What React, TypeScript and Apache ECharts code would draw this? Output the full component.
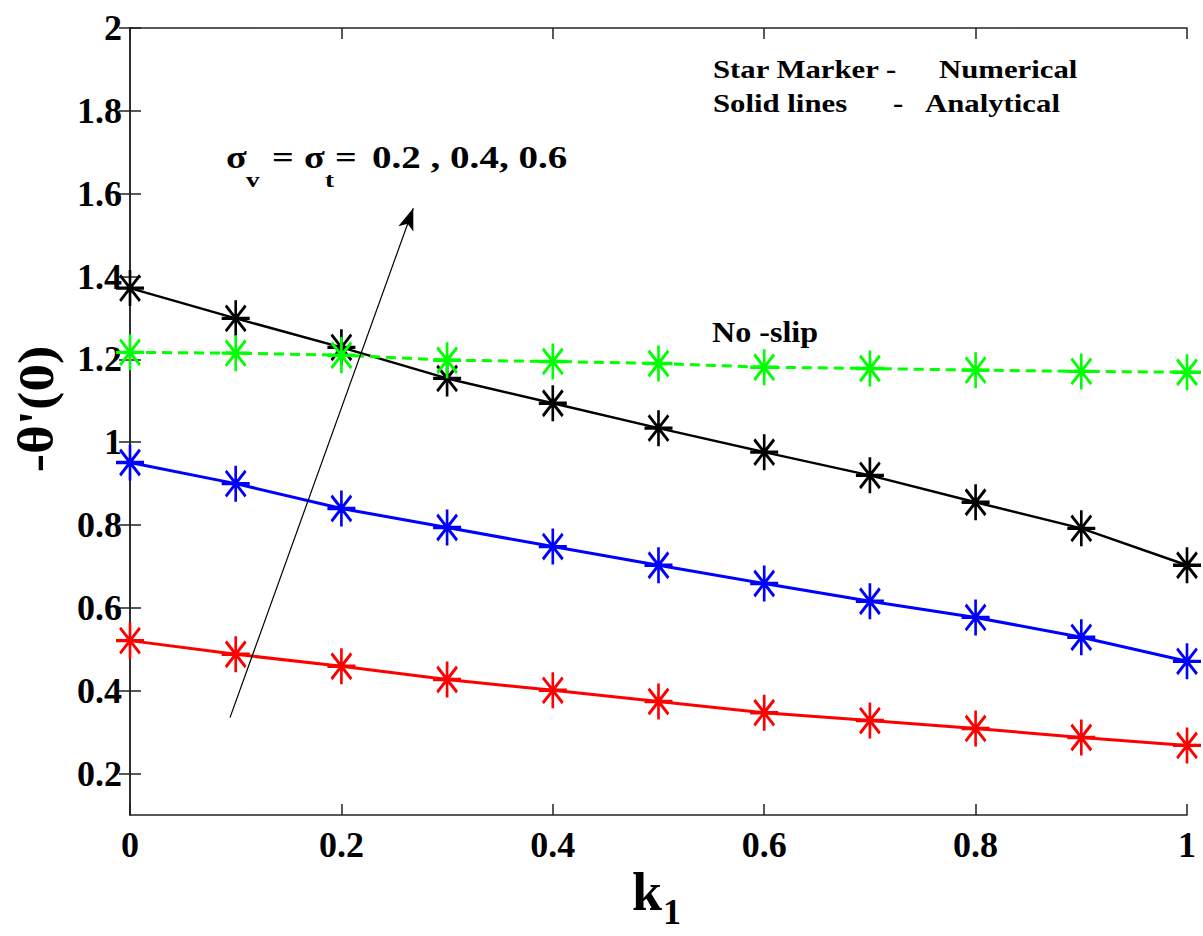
import React, { useEffect, useRef } from "react";
import * as echarts from "echarts";

const k1Values = [0, 0.1, 0.2, 0.3, 0.4, 0.5, 0.6, 0.7, 0.8, 0.9, 1.0];
const sigma02 = [0.521, 0.488, 0.459, 0.427, 0.401, 0.374, 0.347, 0.328, 0.309, 0.287, 0.268];
const sigma04 = [0.951, 0.9, 0.84, 0.794, 0.748, 0.703, 0.659, 0.616, 0.577, 0.529, 0.471];
const sigma06 = [1.372, 1.299, 1.229, 1.154, 1.094, 1.034, 0.976, 0.92, 0.855, 0.792, 0.703];
const noSlip = [1.217, 1.215, 1.21, 1.198, 1.195, 1.19, 1.181, 1.178, 1.174, 1.171, 1.169];
const yTicks = [0.2, 0.4, 0.6, 0.8, 1, 1.2, 1.4, 1.6, 1.8, 2];
const xTicks = [0, 0.2, 0.4, 0.6, 0.8, 1];
const arrowFrom = [0.0946, 0.335];
const arrowTo = [0.268, 1.565];

const STAR = "path://M0,-10L0,10M-10,0L10,0M-7.07,-7.07L7.07,7.07M-7.07,7.07L7.07,-7.07";
const SERIF = "'Liberation Serif', 'Times New Roman', serif";

function pairs(ys: number[]) {
  return k1Values.map((x, i) => [x, ys[i]]);
}

function lineSeries(name: string, ys: number[], color: string, dashed: boolean, width: number, extra: any = {}) {
  return {
    name,
    type: "line",
    data: pairs(ys),
    symbol: STAR,
    symbolSize: [28, 36],
    itemStyle: { color, borderColor: color, borderWidth: 3 },
    lineStyle: { color, width, type: dashed ? [10, 6] : "solid" },
    emphasis: { disabled: true },
    ...extra,
  };
}

// text placed by its baseline (approx.) using bottom alignment
function txt(text: string, x: number, baseline: number, size: number, sx = 1) {
  return {
    type: "text",
    x,
    y: baseline + 0.17 * size,
    scaleX: sx,
    style: { text, font: `bold ${size}px ${SERIF}`, fill: "#000", textVerticalAlign: "bottom" },
  };
}

export default function App() {
  const ref = useRef<HTMLDivElement>(null);
  useEffect(() => {
    if (!ref.current) return;
    const chart = echarts.init(ref.current, null, { renderer: "svg" });
    const axisLine = { show: true, lineStyle: { color: "#222", width: 1.5 } };
    const tickStyle = { inside: true, length: 11, lineStyle: { color: "#222", width: 1.5 } };
    const labelFont = { fontFamily: SERIF, fontWeight: "bold" as const, fontSize: 36, color: "#000" };
    chart.setOption({
      animation: false,
      backgroundColor: "#fff",
      grid: { left: 130, right: 16, top: 28, bottom: 121, containLabel: false },
      xAxis: [
        {
          type: "value", min: 0, max: 1, position: "bottom",
          axisLine, splitLine: { show: false },
          axisTick: { ...tickStyle, customValues: xTicks },
          axisLabel: { ...labelFont, margin: 12, customValues: xTicks, formatter: (v: number) => String(v) },
        },
        {
          type: "value", min: 0, max: 1, position: "top",
          axisLine, splitLine: { show: false },
          axisTick: { ...tickStyle, customValues: xTicks },
          axisLabel: { show: false },
        },
      ],
      yAxis: [
        {
          type: "value", min: 0.1, max: 2, position: "left",
          axisLine, splitLine: { show: false },
          axisTick: { ...tickStyle, customValues: yTicks },
          axisLabel: { ...labelFont, margin: 8, customValues: yTicks, formatter: (v: number) => String(Math.round(v * 10) / 10) },
        },
        {
          type: "value", min: 0.1, max: 2, position: "right",
          axisLine, splitLine: { show: false },
          axisTick: { ...tickStyle, customValues: yTicks },
          axisLabel: { show: false },
        },
      ],
      series: [
        lineSeries("σ = 0.2", sigma02, "#ff0000", false, 3, {
          markLine: {
            silent: true,
            symbol: ["none", "arrow"],
            symbolSize: [12, 22],
            label: { show: false },
            lineStyle: { color: "#000", width: 1.2, type: "solid" },
            data: [[{ coord: arrowFrom }, { coord: arrowTo }]],
          },
        }),
        lineSeries("σ = 0.4", sigma04, "#0000ff", false, 3),
        lineSeries("σ = 0.6", sigma06, "#000000", false, 2.5),
        lineSeries("No-slip", noSlip, "#00ff00", true, 3),
      ],
      graphic: [
        txt("Star Marker -", 713, 78, 25, 1.23),
        txt("Numerical", 939, 78, 25, 1.23),
        txt("Solid lines", 713, 112, 25, 1.23),
        txt("-", 893, 112, 25, 1.23),
        txt("Analytical", 925, 112, 25, 1.23),
        txt("No -slip", 712, 342, 30, 1.07),
        txt("σ", 226, 168, 31, 1.23),
        txt("v", 246, 187, 22, 1.23),
        txt("=", 272, 168, 31, 1.23),
        txt("σ", 304, 168, 31, 1.23),
        txt("t", 325, 187, 22, 1.23),
        txt("=", 335, 168, 31, 1.23),
        txt("0.2 , 0.4, 0.6", 372, 168, 31, 1.26),
        txt("k", 632, 910, 54, 1),
        txt("1", 663, 924, 36, 1),
        {
          type: "text", x: 36, y: 409, rotation: Math.PI / 2, scaleX: 1.1,
          style: {
            text: "-θ'(0)", font: `bold 50px ${SERIF}`, fill: "#000",
            textAlign: "center", textVerticalAlign: "middle",
          },
        },
      ],
    });
    return () => chart.dispose();
  }, []);
  return (
    <div
      ref={ref}
      style={{ position: "absolute", left: 0, top: 0, width: 1203, height: 936, background: "#fff" }}
    />
  );
}
